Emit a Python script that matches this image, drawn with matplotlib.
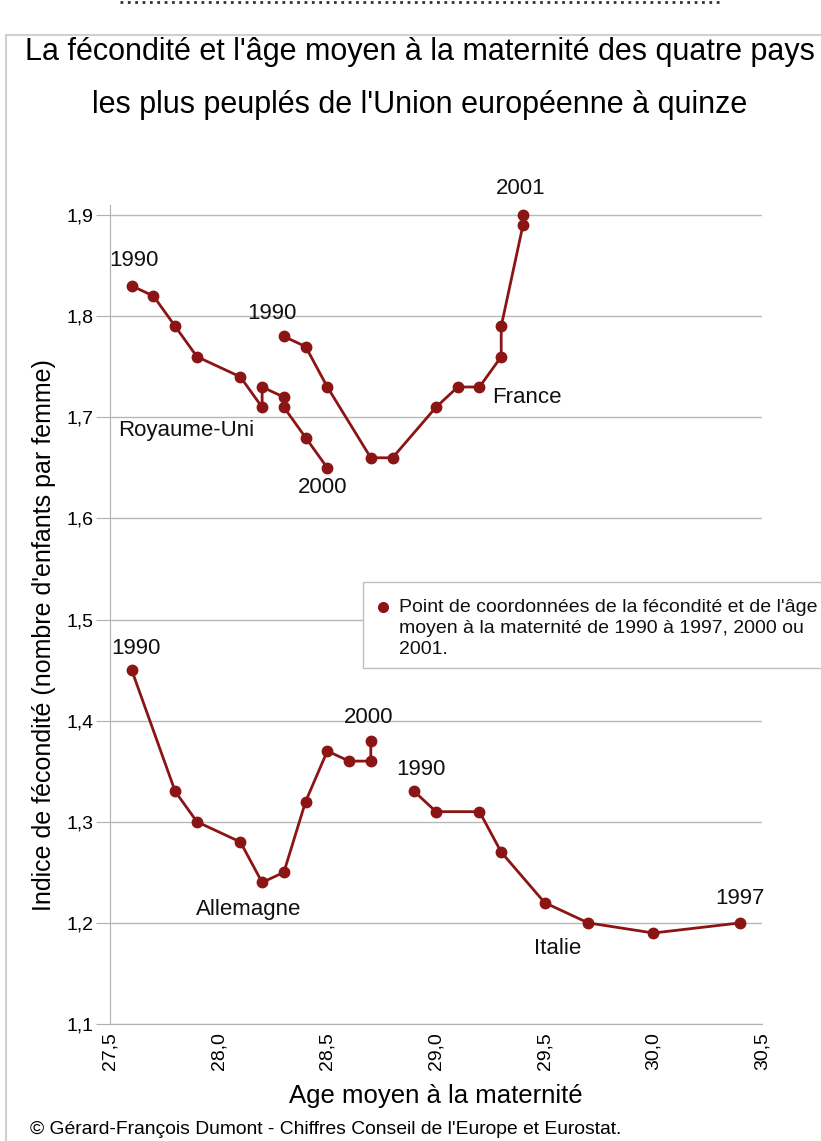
import matplotlib
matplotlib.use("Agg")
import matplotlib.pyplot as plt
from matplotlib.lines import Line2D
from matplotlib.patches import Rectangle
from matplotlib.ticker import FuncFormatter

plt.rcParams['font.family'] = ['Liberation Sans', 'DejaVu Sans']

# age moyen a la maternite / indice de fecondite
uk_age = [27.6, 27.7, 27.8, 27.9, 28.1, 28.2, 28.2, 28.3, 28.3, 28.4, 28.5]
uk_fec = [1.83, 1.82, 1.79, 1.76, 1.74, 1.71, 1.73, 1.72, 1.71, 1.68, 1.65]

fr_age = [28.3, 28.4, 28.5, 28.7, 28.8, 29.0, 29.1, 29.2, 29.3, 29.3, 29.4, 29.4]
fr_fec = [1.78, 1.77, 1.73, 1.66, 1.66, 1.71, 1.73, 1.73, 1.76, 1.79, 1.89, 1.90]

de_age = [27.6, 27.8, 27.9, 28.1, 28.2, 28.3, 28.4, 28.5, 28.6, 28.7, 28.7]
de_fec = [1.45, 1.33, 1.30, 1.28, 1.24, 1.25, 1.32, 1.37, 1.36, 1.36, 1.38]

it_age = [28.9, 29.0, 29.2, 29.3, 29.5, 29.7, 30.0, 30.4]
it_fec = [1.33, 1.31, 1.31, 1.27, 1.22, 1.20, 1.19, 1.20]

# labels: (text, x, y)
labels = [
    ("1990", 27.61, 1.855), ("Royaume-Uni", 27.85, 1.687), ("2000", 28.48, 1.631),
    ("1990", 28.245, 1.803), ("France", 29.42, 1.72), ("2001", 29.39, 1.926),
    ("1990", 27.62, 1.471), ("Allemagne", 28.14, 1.213), ("2000", 28.69, 1.403),
    ("1990", 28.93, 1.352), ("Italie", 29.56, 1.175), ("1997", 30.40, 1.224),
]

legend_lines = ["Point de coordonnées de la fécondité et de l'âge",
                "moyen à la maternité de 1990 à 1997, 2000 ou",
                "2001."]

red = '#8b1414'
W, H = 821, 1141

fig = plt.figure(figsize=(8.21, 11.41), dpi=100)
ax = fig.add_axes([110 / W, 117 / H, 652 / W, 819 / H])

for xs, ys in [(uk_age, uk_fec), (fr_age, fr_fec), (de_age, de_fec), (it_age, it_fec)]:
    ax.plot(xs, ys, color=red, lw=2, marker='o', ms=7.5, clip_on=False, zorder=3)

for txt, x, y in labels:
    ax.text(x, y, txt, ha='center', va='center', fontsize=16, color='#111111', clip_on=False)

ax.set_xlim(27.5, 30.5)
ax.set_ylim(1.1, 1.91)
ax.set_xticks([27.5, 28.0, 28.5, 29.0, 29.5, 30.0, 30.5])
ax.set_yticks([1.1, 1.2, 1.3, 1.4, 1.5, 1.6, 1.7, 1.8, 1.9])
ax.xaxis.set_major_formatter(FuncFormatter(lambda v, p: f"{v:.1f}".replace('.', ',')))
ax.yaxis.set_major_formatter(FuncFormatter(lambda v, p: f"{v:.1f}".replace('.', ',')))
ax.tick_params(axis='x', rotation=90, labelsize=14, length=0, pad=6)
ax.tick_params(axis='y', labelsize=14, length=10, color='#b0b0b0', pad=2)
ax.grid(axis='y', color='#b8b8b8', lw=1)
ax.set_axisbelow(True)
for s in ['top', 'right']:
    ax.spines[s].set_visible(False)
for s in ['left', 'bottom']:
    ax.spines[s].set_color('#b0b0b0')

ax.set_xlabel("Age moyen à la maternité", fontsize=18.5, labelpad=10)
ax.set_ylabel("Indice de fécondité (nombre d'enfants par femme)", fontsize=18, va='center')
ax.yaxis.set_label_coords(-(110 - 44) / 652, (1024 - 635) / 819)

# legend box, drawn by hand so the dot sits on the first line
fig.add_artist(Rectangle((363 / W, 1 - 668 / H), 1.0, 86 / H, transform=fig.transFigure,
                         facecolor='white', edgecolor='#c0c0c0', lw=1, zorder=5))
fig.add_artist(Line2D([383 / W], [1 - 607 / H], transform=fig.transFigure, color=red,
                      marker='o', ms=7, ls='none', zorder=6))
for i, line in enumerate(legend_lines):
    fig.text(399 / W, 1 - (607 + 21.5 * i) / H, line, ha='left', va='center',
             fontsize=14, color='#111111', zorder=6)

fig.text(420 / W, 1 - 52 / H, "La fécondité et l'âge moyen à la maternité des quatre pays",
         ha='center', va='center', fontsize=22)
fig.text(420 / W, 1 - 105 / H, "les plus peuplés de l'Union européenne à quinze",
         ha='center', va='center', fontsize=22)
fig.text(30 / W, 1 - 1130 / H, "© Gérard-François Dumont - Chiffres Conseil de l'Europe et Eurostat.",
         ha='left', va='center', fontsize=13.9)

# outer frame
fig.add_artist(Rectangle((6 / W, -0.01), 1.0, 1 - 35 / H + 0.01, transform=fig.transFigure,
                         fill=False, edgecolor='#d0d0d0', lw=1.5))
fig.add_artist(Line2D([120 / W, 720 / W], [1 - 2 / H] * 2, transform=fig.transFigure,
                      color='#333333', lw=2, ls=':'))

fig.savefig("out.png", dpi=100)
